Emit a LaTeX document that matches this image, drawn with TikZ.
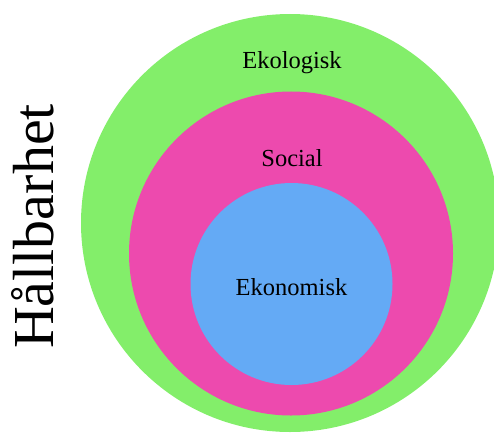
\documentclass[tikz,border=0pt]{standalone}
\usepackage{fontspec}
\setmainfont{Liberation Serif}
\usepackage{xcolor}
\usetikzlibrary{positioning}

\definecolor{ekogreen}{RGB}{131,238,106}
\definecolor{socpink}{RGB}{237,74,174}
\definecolor{ekoblue}{RGB}{100,170,245}

\begin{document}
\begin{tikzpicture}[x=1pt,y=-1pt]
% -------------------------------------------------
% Styles
% -------------------------------------------------
\tikzset{
  ring/.style={circle, draw=none, inner sep=0pt},
  lbl/.style={anchor=base, font=\fontsize{24.5}{24.5}\selectfont},
}
\useasboundingbox (0,0) rectangle (494,433);
\clip (0,0) rectangle (494,433);
% -------------------------------------------------
% circles
% -------------------------------------------------
\node[ring, fill=ekogreen, minimum size=418pt] (eco) at (290,223) {};
\node[ring, fill=socpink, minimum size=324pt] (soc) at (291,253.5) {};
\node[ring, fill=ekoblue, minimum size=202pt] (eko) at (291.5,284) {};
% -------------------------------------------------
% labels
% -------------------------------------------------
\node[lbl] (ekolbl) at (292,69) {Ekologisk};
\node[lbl] (soclbl) at (292,166) {Social};
\node[lbl] (ekonlbl) at (291.5,295) {Ekonomisk};

\node[anchor=base, rotate=90, font=\fontsize{58}{58}\selectfont] (title) at (53,226.5) {Hållbarhet};

\end{tikzpicture}
\end{document}
